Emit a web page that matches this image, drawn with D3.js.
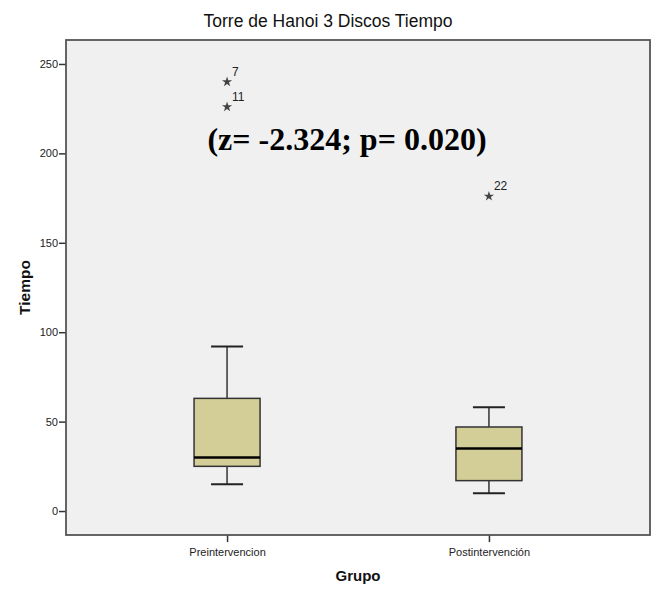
<!DOCTYPE html>
<html>
<head>
<meta charset="utf-8">
<script src="https://cdn.jsdelivr.net/npm/d3@7"></script>
<style>
  body { margin: 0; background: #fff; }
  text { font-family: Arial, "Liberation Sans", sans-serif; }
</style>
</head>
<body>
<svg id="chart" width="657" height="589"></svg>
<script>
// data
var groups = ["Preintervencion", "Postintervención"];
var whiskerLow = [15, 10];
var q1 = [25, 17];
var median = [30, 35];
var q3 = [63, 47];
var whiskerHigh = [92, 58];
var outlierGroup = [0, 0, 1];
var outlierValue = [240, 226, 176];
var outlierLabel = ["7", "11", "22"];
var yTicks = [0, 50, 100, 150, 200, 250];

var svg = d3.select("#chart"),
  margin = { left: 66, top: 40, right: 7, bottom: 54 },
  width = 657 - margin.left - margin.right,
  height = 589 - margin.top - margin.bottom;

var y = d3.scaleLinear().domain([-13.4, 263.4]).range([height, 0]);
var x = d3.scalePoint().domain(groups).range([0, width]).padding(0.615);

var g = svg.append("g").attr("transform", "translate(" + margin.left + "," + margin.top + ")");

g.append("rect")
  .attr("width", width)
  .attr("height", height)
  .style("fill", "#f0f0f0");

// title (centred on the whole chart, as SPSS does)
svg.append("text")
  .attr("x", 328)
  .attr("y", 27)
  .attr("text-anchor", "middle")
  .style("font-size", "17.5px")
  .style("fill", "#111")
  .text("Torre de Hanoi 3 Discos Tiempo");

// y axis
var yAxis = g.append("g")
  .call(d3.axisLeft(y).tickValues(yTicks).tickSize(7).tickPadding(1));
yAxis.select(".domain").remove();
yAxis.selectAll("line").style("stroke", "#333").style("stroke-width", 1.5);
yAxis.selectAll("text").style("font-size", "11px").style("fill", "#222").style("font-family", "Arial");

// x axis
var xAxis = g.append("g")
  .attr("transform", "translate(0," + height + ")")
  .call(d3.axisBottom(x).tickSize(7).tickPadding(6));
xAxis.select(".domain").remove();
xAxis.selectAll("line").style("stroke", "#333").style("stroke-width", 1.5);
xAxis.selectAll("text").style("font-size", "11px").style("fill", "#222").style("font-family", "Arial");

// frame
g.append("rect")
  .attr("width", width)
  .attr("height", height)
  .style("fill", "none")
  .style("stroke", "#555")
  .style("stroke-width", 1.8);

var boxW = 66, capW = 32;

var boxes = g.selectAll(".box")
  .data(groups)
  .enter()
  .append("g")
  .attr("class", "box");

boxes.append("line")
  .attr("x1", function (d) { return x(d); })
  .attr("x2", function (d) { return x(d); })
  .attr("y1", function (d, i) { return y(whiskerHigh[i]); })
  .attr("y2", function (d, i) { return y(q3[i]); })
  .style("stroke", "#333").style("stroke-width", 1.5);

boxes.append("line")
  .attr("x1", function (d) { return x(d); })
  .attr("x2", function (d) { return x(d); })
  .attr("y1", function (d, i) { return y(q1[i]); })
  .attr("y2", function (d, i) { return y(whiskerLow[i]); })
  .style("stroke", "#333").style("stroke-width", 1.5);

boxes.append("line")
  .attr("x1", function (d) { return x(d) - capW / 2; })
  .attr("x2", function (d) { return x(d) + capW / 2; })
  .attr("y1", function (d, i) { return y(whiskerHigh[i]); })
  .attr("y2", function (d, i) { return y(whiskerHigh[i]); })
  .style("stroke", "#222").style("stroke-width", 2);

boxes.append("line")
  .attr("x1", function (d) { return x(d) - capW / 2; })
  .attr("x2", function (d) { return x(d) + capW / 2; })
  .attr("y1", function (d, i) { return y(whiskerLow[i]); })
  .attr("y2", function (d, i) { return y(whiskerLow[i]); })
  .style("stroke", "#222").style("stroke-width", 2);

boxes.append("rect")
  .attr("x", function (d) { return x(d) - boxW / 2; })
  .attr("y", function (d, i) { return y(q3[i]); })
  .attr("width", boxW)
  .attr("height", function (d, i) { return y(q1[i]) - y(q3[i]); })
  .style("fill", "#d3ce98")
  .style("stroke", "#333")
  .style("stroke-width", 1.5);

boxes.append("line")
  .attr("x1", function (d) { return x(d) - boxW / 2; })
  .attr("x2", function (d) { return x(d) + boxW / 2; })
  .attr("y1", function (d, i) { return y(median[i]); })
  .attr("y2", function (d, i) { return y(median[i]); })
  .style("stroke", "#000").style("stroke-width", 2.5);

// outliers (extreme values marked with stars)
var star = d3.symbol().type(d3.symbolStar).size(32);
outlierValue.forEach(function (v, i) {
  var cx = x(groups[outlierGroup[i]]), cy = y(v);
  g.append("path")
    .attr("d", star)
    .attr("transform", "translate(" + cx + "," + cy + ")")
    .style("fill", "#444");
  g.append("text")
    .attr("x", cx + 5)
    .attr("y", cy - 6)
    .style("font-size", "12px")
    .style("fill", "#222")
    .text(outlierLabel[i]);
});

// test annotation
g.append("text")
  .attr("x", 281)
  .attr("y", 110)
  .attr("text-anchor", "middle")
  .style("font-family", "'Liberation Serif', 'Times New Roman', serif")
  .style("font-weight", "bold")
  .style("font-size", "32px")
  .style("fill", "#000")
  .text("(z= -2.324; p= 0.020)");

// axis titles
svg.append("text")
  .attr("transform", "translate(30," + (margin.top + height / 2) + ") rotate(-90)")
  .attr("text-anchor", "middle")
  .style("font-size", "15.5px")
  .style("font-weight", "bold")
  .style("fill", "#111")
  .text("Tiempo");

svg.append("text")
  .attr("x", margin.left + width / 2)
  .attr("y", 581)
  .attr("text-anchor", "middle")
  .style("font-size", "15px")
  .style("font-weight", "bold")
  .style("fill", "#111")
  .text("Grupo");
</script>
</body>
</html>
